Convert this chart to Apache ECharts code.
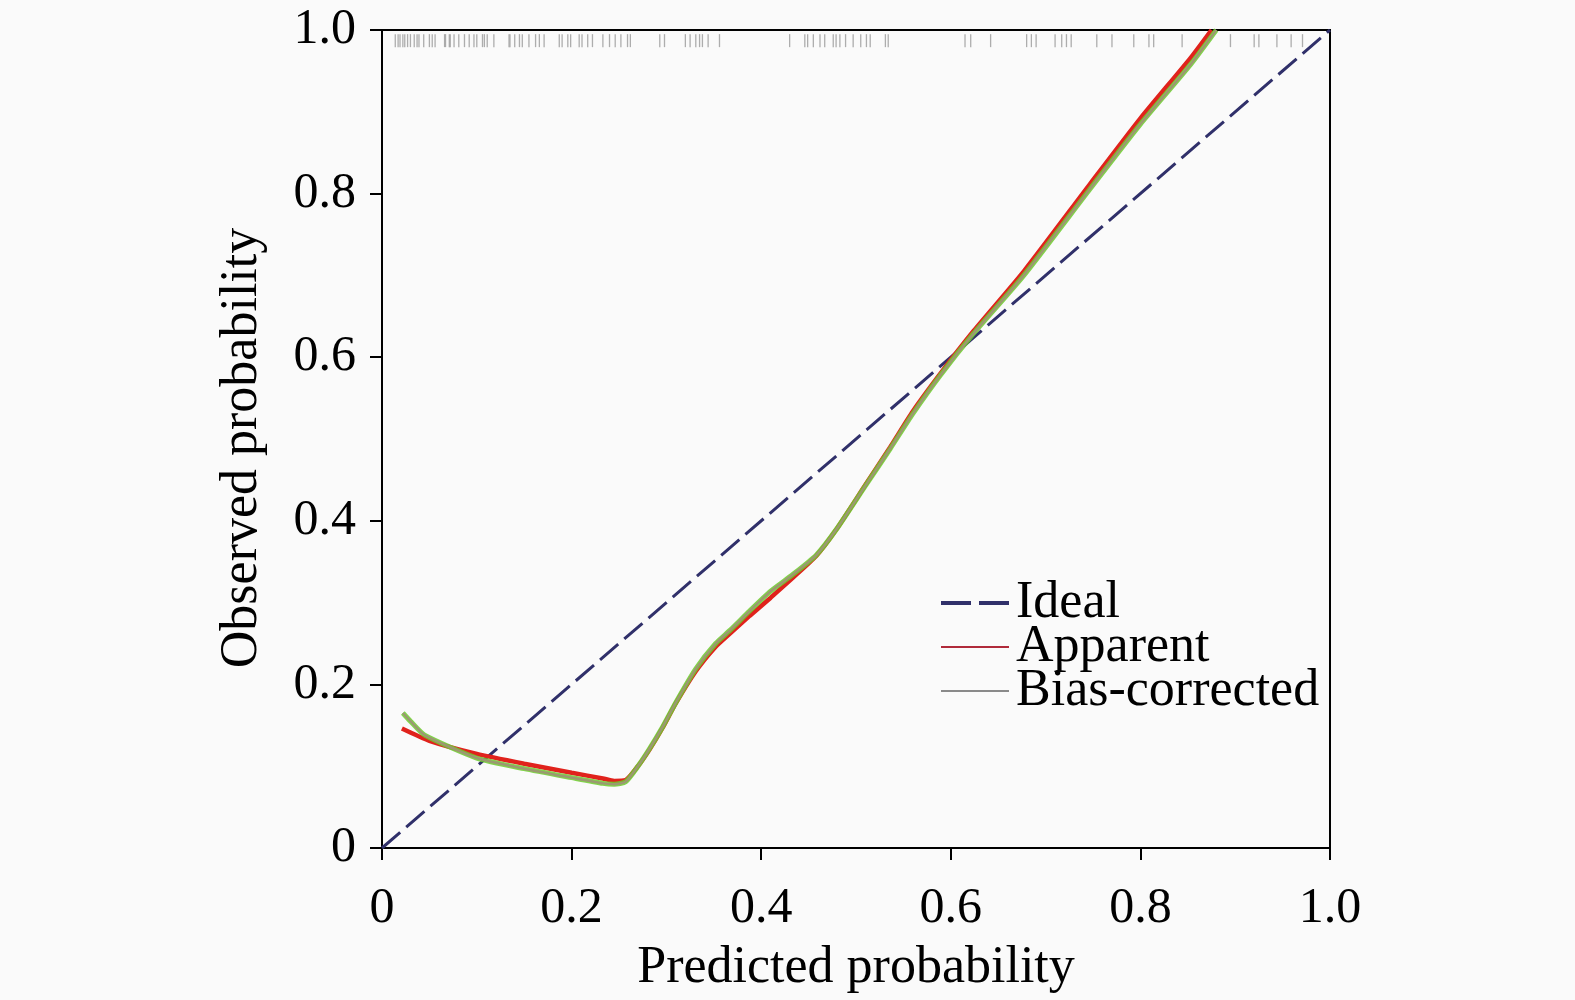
<!DOCTYPE html>
<html>
<head>
<meta charset="utf-8">
<script src="https://cdn.jsdelivr.net/npm/echarts@6/dist/echarts.min.js"></script>
<style>
  html, body { margin: 0; padding: 0; background: #fafafa; }
  #chart { width: 1575px; height: 1000px; }
</style>
</head>
<body>
<div id="chart"></div>
<script>
// Calibration curve data
var ticks = [0, 0.2, 0.4, 0.6, 0.8, 1.0];

var idealPred = [0, 1];
var idealObs = [0, 1];

var apparentPred = [0.021, 0.05, 0.1, 0.15, 0.2, 0.233, 0.245, 0.257, 0.27, 0.282, 0.296, 0.31, 0.331, 0.352, 0.367, 0.388, 0.41, 0.433, 0.458, 0.479, 0.51, 0.536, 0.56, 0.589, 0.624, 0.677, 0.747, 0.8, 0.853, 0.875];
var apparentObs = [0.146, 0.131, 0.115, 0.103, 0.092, 0.085, 0.082, 0.083, 0.1, 0.12, 0.147, 0.177, 0.216, 0.246, 0.262, 0.284, 0.306, 0.33, 0.357, 0.389, 0.444, 0.49, 0.534, 0.58, 0.632, 0.705, 0.812, 0.892, 0.966, 1.0];

var biasPred = [0.022, 0.03, 0.045, 0.1, 0.15, 0.2, 0.233, 0.245, 0.257, 0.27, 0.282, 0.296, 0.31, 0.331, 0.352, 0.367, 0.388, 0.41, 0.433, 0.458, 0.479, 0.51, 0.536, 0.56, 0.589, 0.624, 0.677, 0.747, 0.8, 0.853, 0.88];
var biasObs = [0.165, 0.155, 0.138, 0.11, 0.097, 0.086, 0.079, 0.078, 0.081, 0.1, 0.121, 0.148, 0.178, 0.219, 0.25, 0.266, 0.29, 0.314, 0.334, 0.358, 0.389, 0.443, 0.488, 0.531, 0.578, 0.629, 0.7, 0.806, 0.885, 0.958, 1.0];

// rug of predicted values along the top
var rugPred = [0.014, 0.017, 0.019, 0.022, 0.024, 0.027, 0.030, 0.034, 0.037, 0.039, 0.044, 0.050, 0.053, 0.056, 0.066, 0.067, 0.071, 0.072, 0.076, 0.081, 0.087, 0.092, 0.097, 0.100, 0.106, 0.108, 0.111, 0.118, 0.134, 0.135, 0.140, 0.145, 0.148, 0.155, 0.162, 0.166, 0.171, 0.187, 0.190, 0.196, 0.199, 0.208, 0.211, 0.217, 0.222, 0.233, 0.240, 0.246, 0.252,
  0.259, 0.262, 0.293, 0.298, 0.320, 0.325, 0.331, 0.335, 0.338, 0.344, 0.356, 0.430, 0.446, 0.449, 0.455, 0.462, 0.467, 0.476, 0.479, 0.483, 0.489, 0.497, 0.505,
  0.511, 0.515, 0.531, 0.534, 0.615, 0.621, 0.642, 0.680, 0.685, 0.690, 0.710, 0.717, 0.722, 0.727, 0.754,
  0.770, 0.793, 0.809, 0.814, 0.844, 0.895, 0.920, 0.925, 0.944, 0.959, 0.971];
var rugLevel = 0.987;

function pairs(xs, ys) {
    var out = [];
    for (var i = 0; i < xs.length; i++) out.push([xs[i], ys[i]]);
    return out;
}

var font = 'Liberation Serif';
var myChart = echarts.init(document.getElementById('chart'));

function tickLabel(v) {
    return v === 0 ? '0' : v.toFixed(1);
}

var option = {
    backgroundColor: '#fafafa',
    animation: false,
    grid: {
        left: 382, top: 30, width: 948, height: 818,
        outerBoundsMode: 'none', containLabel: false,
        show: true, borderColor: '#000', borderWidth: 2, backgroundColor: 'transparent'
    },
    legend: {
        data: [
            { name: 'Ideal', lineStyle: { type: [30, 8], width: 4 } },
            { name: 'Apparent', lineStyle: { color: '#b02a3a', width: 2 } },
            { name: 'Bias-corrected', lineStyle: { color: '#8a8a8a', width: 2 } }
        ],
        orient: 'vertical',
        left: 934, top: 572,
        itemWidth: 68, itemHeight: 14, itemGap: -8,
        itemStyle: { opacity: 0 },
        textStyle: { fontFamily: font, fontSize: 52, lineHeight: 43, color: '#000', padding: [0, 0, 0, 2] }
    },
    xAxis: {
        type: 'value', min: 0, max: 1, interval: 0.2,
        name: 'Predicted probability', nameLocation: 'middle', nameGap: 94,
        nameTextStyle: { fontFamily: font, fontSize: 52, color: '#000' },
        axisLine: { lineStyle: { color: '#000', width: 2 } },
        axisTick: { length: 12, lineStyle: { color: '#000', width: 2 } },
        axisLabel: { fontFamily: font, fontSize: 50, color: '#000', margin: 36, formatter: tickLabel },
        splitLine: { show: false }
    },
    yAxis: {
        type: 'value', min: 0, max: 1, interval: 0.2,
        name: 'Observed probability', nameLocation: 'middle', nameGap: 114,
        nameTextStyle: { fontFamily: font, fontSize: 52, color: '#000', padding: [0, 18, 0, 0] },
        axisLine: { lineStyle: { color: '#000', width: 2 } },
        axisTick: { length: 12, lineStyle: { color: '#000', width: 2 } },
        axisLabel: { fontFamily: font, fontSize: 50, color: '#000', margin: 26, formatter: tickLabel },
        splitLine: { show: false }
    },
    series: [
        {
            name: 'rug', type: 'scatter', silent: true,
            symbol: 'rect', symbolSize: [1.3, 13],
            itemStyle: { color: '#9a9a9a' },
            data: rugPred.map(function (p) { return [p, rugLevel]; })
        },
        {
            name: 'Ideal', type: 'line', showSymbol: false, symbol: 'none',
            lineStyle: { color: '#30306a', width: 3, type: [24, 8] },
            itemStyle: { color: '#30306a' },
            data: pairs(idealPred, idealObs)
        },
        {
            name: 'Apparent', type: 'line', showSymbol: false, symbol: 'none', smooth: 0.2,
            lineStyle: { color: '#e0221c', width: 4.5 },
            itemStyle: { color: '#e0221c' },
            data: pairs(apparentPred, apparentObs)
        },
        {
            name: 'Bias-corrected fit', type: 'line', showSymbol: false, symbol: 'none', smooth: 0.2,
            lineStyle: { color: '#6ccc2c', width: 5, opacity: 0.85 },
            data: pairs(biasPred, biasObs)
        },
        {
            name: 'Bias-corrected', type: 'line', showSymbol: false, symbol: 'none', smooth: 0.2,
            lineStyle: { color: '#9a9a70', width: 2.5 },
            itemStyle: { color: '#9a9a70' },
            data: pairs(biasPred, biasObs)
        }
    ]
};

myChart.setOption(option);
</script>
</body>
</html>
